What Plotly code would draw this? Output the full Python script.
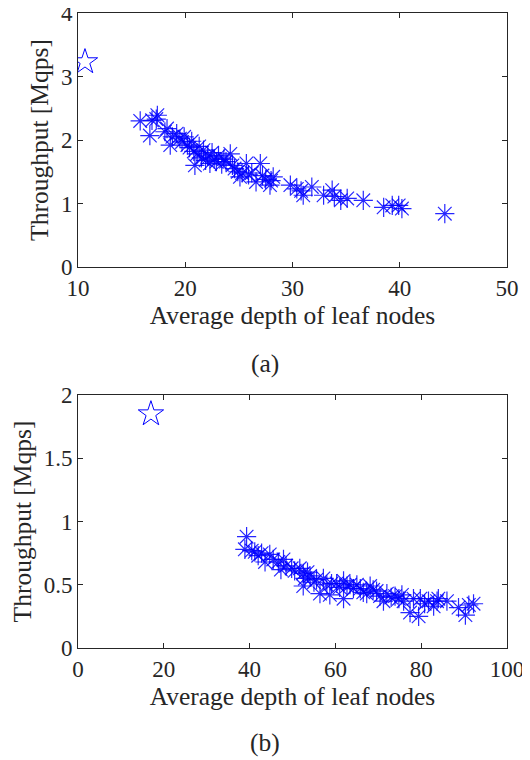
import plotly.graph_objects as go

# (a) throughput vs average depth
depth_a = [15.8, 16.7, 16.9, 17.4, 17.3, 18.1, 18.3, 18.6, 18.8, 19.2, 19.5, 19.7, 19.9,
           20.2, 20.4, 20.6, 20.9, 20.8, 21.1, 21.3, 21.5, 21.7, 21.9, 22.1, 22.3, 22.5,
           22.7, 22.9, 23.1, 23.4, 23.6, 23.8, 24.2, 24.4, 24.6, 24.9, 25.1, 25.3, 25.7,
           25.9, 26.2, 26.6, 27.0, 27.2, 27.5, 27.9, 28.2, 28.0, 29.8, 30.4, 30.8, 31.0,
           31.8, 32.9, 33.7, 33.9, 34.5, 35.1, 36.6, 38.5, 39.3, 39.9, 40.2, 44.2]
tput_a = [2.30, 2.07, 2.31, 2.39, 2.33, 2.13, 2.18, 1.92, 2.05, 2.10, 2.02, 1.97, 2.05,
          1.92, 1.88, 1.98, 1.60, 1.82, 1.78, 1.90, 1.72, 1.84, 1.68, 1.75, 1.63, 1.80,
          1.70, 1.66, 1.75, 1.62, 1.70, 1.66, 1.78, 1.60, 1.55, 1.50, 1.42, 1.48, 1.63,
          1.45, 1.48, 1.34, 1.63, 1.44, 1.38, 1.29, 1.42, 1.36, 1.29, 1.23, 1.20, 1.13,
          1.26, 1.13, 1.21, 1.11, 1.05, 1.08, 1.05, 0.94, 0.97, 0.97, 0.92, 0.84]
star_a = ([10.65], [3.23])

# (b)
depth_b = [39.3, 38.9, 40.5, 41.2, 42.0, 42.8, 43.6, 44.7, 45.5, 46.7, 47.3, 47.9, 48.5,
           49.8, 50.5, 51.7, 52.5, 52.9, 52.5, 53.5, 54.1, 55.0, 55.6, 56.4, 57.2, 58.0,
           58.7, 59.1, 60.3, 61.0, 61.9, 61.9, 62.7, 63.4, 64.2, 65.0, 65.8, 66.5, 67.3,
           68.1, 68.8, 69.6, 70.4, 71.2, 72.0, 73.0, 73.9, 74.8, 75.5, 75.9, 77.4, 78.2,
           79.4, 79.8, 80.8, 81.7, 82.9, 83.7, 84.0, 86.0, 88.7, 90.3, 91.1, 92.2]
tput_b = [0.88, 0.78, 0.77, 0.76, 0.73, 0.75, 0.68, 0.74, 0.70, 0.68, 0.62, 0.70, 0.65,
          0.63, 0.61, 0.63, 0.59, 0.55, 0.49, 0.60, 0.57, 0.52, 0.54, 0.43, 0.55, 0.50,
          0.42, 0.51, 0.51, 0.48, 0.39, 0.53, 0.49, 0.50, 0.47, 0.50, 0.47, 0.44, 0.43,
          0.49, 0.46, 0.45, 0.41, 0.37, 0.43, 0.40, 0.41, 0.39, 0.42, 0.37, 0.28, 0.39,
          0.25, 0.39, 0.35, 0.37, 0.33, 0.37, 0.39, 0.37, 0.32, 0.26, 0.34, 0.35]
star_b = ([17.0], [1.85])

BLUE = "rgba(0,0,255,0.85)"
TXT = "#262626"
FONT = "Liberation Serif, Times New Roman, serif"
FS_TICK = 23
FS_LAB = 25.5

fig = go.Figure()
ast = dict(symbol="asterisk-open", size=16, color=BLUE, line=dict(color=BLUE, width=1.2))
star = dict(symbol="star-open", size=19, color="blue", line=dict(color="blue", width=1))

fig.add_trace(go.Scatter(x=depth_a, y=tput_a, mode="markers", marker=ast, xaxis="x", yaxis="y"))
fig.add_trace(go.Scatter(x=star_a[0], y=star_a[1], mode="markers", marker=star, xaxis="x", yaxis="y"))
fig.add_trace(go.Scatter(x=depth_b, y=tput_b, mode="markers", marker=ast, xaxis="x2", yaxis="y2"))
fig.add_trace(go.Scatter(x=star_b[0], y=star_b[1], mode="markers", marker=star, xaxis="x2", yaxis="y2"))

ax = dict(showgrid=False, zeroline=False, showline=True, linecolor=TXT, linewidth=1,
          mirror="ticks", ticks="inside", ticklen=5, tickcolor=TXT, automargin=False,
          ticklabeloverflow="allow",
          tickfont=dict(size=FS_TICK, color=TXT, family=FONT))
xt = dict(text="Average depth of leaf nodes", font=dict(size=FS_LAB, color=TXT, family=FONT), standoff=2)
yt = dict(text="Throughput [Mqps]", font=dict(size=FS_LAB, color=TXT, family=FONT), standoff=4)

# page body has an 8px margin, so the figure is 8px smaller than the window
fig.update_layout(
    width=522, height=752, showlegend=False,
    font=dict(family=FONT, color=TXT, size=FS_TICK),
    plot_bgcolor="white", paper_bgcolor="white",
    margin=dict(l=70, r=23, t=5, b=112),
    xaxis=dict(ax, domain=[0, 1], anchor="y", range=[10, 50], tickvals=[10, 20, 30, 40, 50], title=xt),
    yaxis=dict(ax, domain=[0.6, 1], anchor="x", range=[0, 4], tickvals=[0, 1, 2, 3, 4], title=yt),
    xaxis2=dict(ax, domain=[0, 1], anchor="y2", range=[0, 100], tickvals=[0, 20, 40, 60, 80, 100], title=xt),
    yaxis2=dict(ax, domain=[0, 0.3984], anchor="x2", range=[0, 2], tickvals=[0, 0.5, 1, 1.5, 2],
                ticktext=["0", "0.5", "1", "1.5", "2"], title=yt),
    annotations=[
        dict(text="(a)", x=0.436, y=0.4488, xref="paper", yref="paper", showarrow=False,
             font=dict(size=FS_LAB, color=TXT, family=FONT), xanchor="center", yanchor="middle"),
        dict(text="(b)", x=0.436, y=-0.1496, xref="paper", yref="paper", showarrow=False,
             font=dict(size=FS_LAB, color=TXT, family=FONT), xanchor="center", yanchor="middle"),
    ],
)

fig.write_html("out.html")
